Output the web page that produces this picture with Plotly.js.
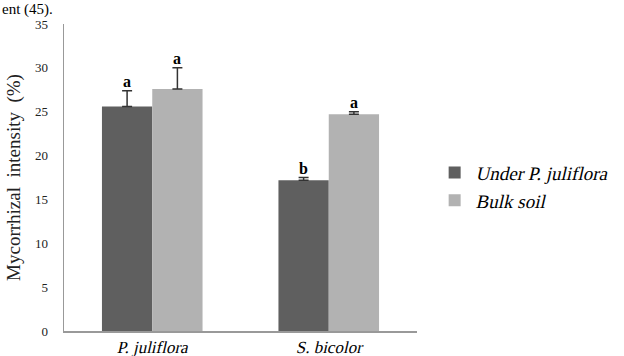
<!DOCTYPE html>
<html><head><meta charset="utf-8">
<script src="https://cdn.plot.ly/plotly-3.0.1.min.js"></script>
<style>
html,body{margin:0;padding:0;background:#fff}#chart{width:624px;height:356px}
#chart .legendtext{transform:skewX(-13deg);transform-box:fill-box;transform-origin:50% 100%;}
</style>
</head><body><div id="chart"></div>
<script>
var categories = ['P. juliflora', 'S. bicolor'];
var seriesNames = ['Under P. juliflora', 'Bulk soil'];
var underValues = [25.6, 17.2];
var bulkValues = [27.6, 24.7];
var underErr = [1.8, 0.3];
var bulkErr = [2.4, 0.3];
var underLetters = ['a', 'b'];
var bulkLetters = ['a', 'a'];
var yTicks = [0, 5, 10, 15, 20, 25, 30, 35];

var SERIF = '"Liberation Serif", "Times New Roman", Times, serif';
var bargap = 0.43;
var off = (1 - bargap) / 4;
var idx = categories.map(function(c, i){ return i; });

var traces = [
  {type:'bar', name: seriesNames[0], x: idx, y: underValues,
   marker:{color:'#5f5f5f'},
   error_y:{type:'data', symmetric:false, array: underErr, arrayminus: underErr.map(function(){return 0;}), color:'#333', thickness:1.5, width:5}},
  {type:'bar', name: seriesNames[1], x: idx, y: bulkValues,
   marker:{color:'#b2b2b2'},
   error_y:{type:'data', symmetric:false, array: bulkErr, arrayminus: bulkErr.map(function(){return 0;}), color:'#333', thickness:1.5, width:5}}
];

var annotations = [];
idx.forEach(function(i){
  annotations.push({xref:'x', yref:'y', x: i - off, y: underValues[i] + underErr[i], text:'<b>' + underLetters[i] + '</b>',
    showarrow:false, yanchor:'bottom', yshift:-1, font:{family:SERIF, size:16, color:'#000'}});
  annotations.push({xref:'x', yref:'y', x: i + off, y: bulkValues[i] + bulkErr[i], text:'<b>' + bulkLetters[i] + '</b>',
    showarrow:false, yanchor:'bottom', yshift:-1, font:{family:SERIF, size:16, color:'#000'}});
});
annotations.push({xref:'paper', yref:'paper', x:-64/358, xanchor:'left', y:1 + 24/307, yanchor:'top', text:'ent (45).',
  showarrow:false, borderpad:0, font:{family:SERIF, size:15, color:'#000'}});

var layout = {
  width:624, height:356,
  margin:{l:64, r:202, t:24, b:25, pad:0},
  paper_bgcolor:'#fff', plot_bgcolor:'#fff',
  barmode:'group', bargap:bargap, bargroupgap:0,
  showlegend:true,
  legend:{x:1.05, y:0.47, xanchor:'left', yanchor:'middle', font:{family:SERIF, size:19, color:'#000'}, itemwidth:30, tracegroupgap:0, bgcolor:'rgba(0,0,0,0)'},
  xaxis:{range:[-0.5, 1.5], tickvals: idx, ticktext: categories,
    showline:true, linecolor:'#999', linewidth:1.5, showgrid:false, zeroline:false, ticks:'',
    ticklabelstandoff:0,
    tickfont:{family:SERIF, size:17, color:'#000'}},
  yaxis:{range:[0, 35], tickvals: yTicks, showline:true, linecolor:'#999', linewidth:1.5, showgrid:false, zeroline:false, ticks:'',
    ticklabelstandoff:12,
    tickfont:{family:SERIF, size:13, color:'#222'},
    title:{text:'Mycorrhizal  intensity  (%)', standoff:9, font:{family:SERIF, size:19, color:'#222'}}},
  annotations: annotations
};
Plotly.newPlot('chart', traces, layout, {displayModeBar:false, staticPlot:true}).then(function(){
  document.querySelectorAll('#chart .xtick text').forEach(function(t){
    var tr = t.getAttribute('transform') || '';
    var y = parseFloat(t.getAttribute('y')) || 0;
    t.setAttribute('transform', tr + ' translate(0,' + y + ') skewX(-13) translate(0,' + (-y) + ')');
  });
});
</script></body></html>
